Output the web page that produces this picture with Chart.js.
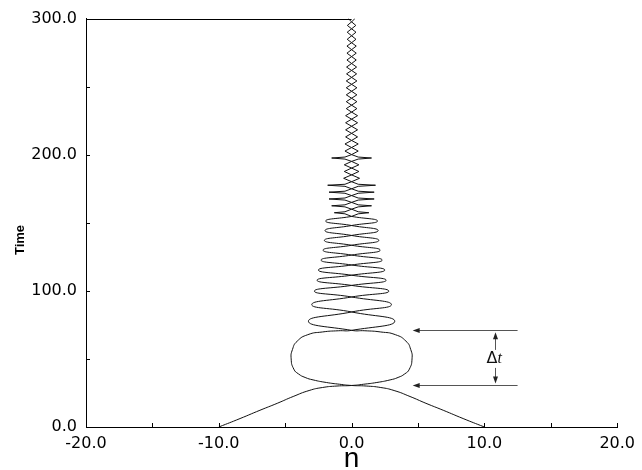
<!DOCTYPE html>
<html>
<head>
<meta charset="utf-8">
<script src="https://cdn.jsdelivr.net/npm/chart.js@4/dist/chart.umd.min.js"></script>
<style>
  html, body { margin: 0; padding: 0; background: #fff; }
  canvas { display: block; }
</style>
</head>
<body>
<canvas id="chart" width="642" height="470"></canvas>
<script>
// tick values
var xTickLabels = [-20, -10, 0, 10, 20];
var xMinorTicks = [-15, -5, 5, 15];
var yTickLabels = [0, 100, 200, 300];
var yMinorTicks = [50, 150, 250];

// particle starting at n = -10, [n, time], up to the end of the clear loops
var loopsA = [
    [-10.0, 0], [-8.4, 6.2], [-6.9, 12.3], [-5.6, 17.4], [-4.4, 22.4], [-3.2, 26.8],
    [-2.2, 29.0], [-1.1, 30.1], [0, 30.5], [0.9, 31.4], [1.9, 32.7], [2.9, 34.6],
    [3.5, 36.4], [4.0, 39.0], [4.35, 42.5], [4.55, 50.0], [4.45, 57.0], [4.1, 63.0],
    [3.3, 67.8], [2.2, 69.8], [1.0, 70.7], [0, 71.0], [-3.25, 77.7], [0, 84.5],
    [3.0, 89.9], [0, 95.5], [-2.8, 99.8], [0, 104.0], [2.6, 107.8], [0, 111.5],
    [-2.5, 115.3], [0, 119.0], [2.3, 122.6], [0, 126.3], [-2.15, 129.9], [0, 133.5],
    [2.05, 137.1], [0, 140.7], [-2.0, 144.3], [0, 148.0], [1.95, 151.3], [0, 154.7]
];
// same particle, zig-zag part with the thin horizontal spikes
var chainA = [
    [0, 154.7], [-0.5, 156.6], [-1.3, 157.4], [-0.5, 158.1], [0, 160.0],
    [0.5, 161.7], [1.5, 162.5], [0.5, 163.2], [0, 165.0],
    [-0.5, 166.7], [-1.7, 167.5], [-0.5, 168.2], [0, 170.0],
    [0.5, 171.7], [1.7, 172.5], [0.5, 173.2], [0, 175.0],
    [-0.5, 176.8], [-1.8, 177.6], [-0.5, 178.3], [0, 180.2],
    [0.6, 182.7], [0, 185.2], [-0.55, 187.7], [0, 190.2], [0.55, 192.6], [0, 195.1],
    [-0.5, 196.8], [-1.5, 197.6], [-0.5, 198.3], [0, 200.1],
    [0.5, 202.7], [0, 205.3], [-0.5, 207.9], [0, 210.5], [0.45, 213.1],
    [0, 215.7], [-0.45, 218.3], [0, 220.9], [0.45, 223.5], [0, 226.1], [-0.45, 228.7],
    [0, 231.3], [0.4, 233.9], [0, 236.4], [-0.4, 239.0], [0, 241.5], [0.4, 244.0],
    [0, 246.6], [-0.4, 249.2], [0, 251.7], [0.4, 254.2], [0, 256.8], [-0.38, 259.4],
    [0, 261.9], [0.38, 264.4], [0, 267.0], [-0.35, 269.6], [0, 272.1], [0.35, 274.6],
    [0, 277.2], [-0.35, 279.8], [0, 282.3], [0.33, 284.8], [0, 287.4], [-0.33, 290.0],
    [0, 292.5], [0.32, 295.0], [0, 297.6], [-0.25, 300.0]
];

// particle starting at n = +10
var loopsB = [
    [10.0, 0], [8.4, 6.2], [6.9, 12.3], [5.6, 17.4], [4.4, 22.4], [3.2, 26.8],
    [2.2, 29.0], [1.1, 30.1], [0, 30.5], [-0.9, 31.4], [-1.9, 32.7], [-2.9, 34.6],
    [-3.5, 36.4], [-4.0, 39.0], [-4.35, 42.5], [-4.55, 50.0], [-4.45, 57.0], [-4.1, 63.0],
    [-3.3, 67.8], [-2.2, 69.8], [-1.0, 70.7], [0, 71.0], [3.25, 77.7], [0, 84.5],
    [-3.0, 89.9], [0, 95.5], [2.8, 99.8], [0, 104.0], [-2.6, 107.8], [0, 111.5],
    [2.5, 115.3], [0, 119.0], [-2.3, 122.6], [0, 126.3], [2.15, 129.9], [0, 133.5],
    [-2.05, 137.1], [0, 140.7], [2.0, 144.3], [0, 148.0], [-1.95, 151.3], [0, 154.7]
];
var chainB = [
    [0, 154.7], [0.5, 156.6], [1.3, 157.4], [0.5, 158.1], [0, 160.0],
    [-0.5, 161.7], [-1.5, 162.5], [-0.5, 163.2], [0, 165.0],
    [0.5, 166.7], [1.7, 167.5], [0.5, 168.2], [0, 170.0],
    [-0.5, 171.7], [-1.7, 172.5], [-0.5, 173.2], [0, 175.0],
    [0.5, 176.8], [1.8, 177.6], [0.5, 178.3], [0, 180.2],
    [-0.6, 182.7], [0, 185.2], [0.55, 187.7], [0, 190.2], [-0.55, 192.6], [0, 195.1],
    [0.5, 196.8], [1.5, 197.6], [0.5, 198.3], [0, 200.1],
    [-0.5, 202.7], [0, 205.3], [0.5, 207.9], [0, 210.5], [-0.45, 213.1],
    [0, 215.7], [0.45, 218.3], [0, 220.9], [-0.45, 223.5], [0, 226.1], [0.45, 228.7],
    [0, 231.3], [-0.4, 233.9], [0, 236.4], [0.4, 239.0], [0, 241.5], [-0.4, 244.0],
    [0, 246.6], [0.4, 249.2], [0, 251.7], [-0.4, 254.2], [0, 256.8], [0.38, 259.4],
    [0, 261.9], [-0.38, 264.4], [0, 267.0], [0.35, 269.6], [0, 272.1], [-0.35, 274.6],
    [0, 277.2], [0.35, 279.8], [0, 282.3], [-0.33, 284.8], [0, 287.4], [0.33, 290.0],
    [0, 292.5], [-0.32, 295.0], [0, 297.6], [0.25, 300.0]
];

// the two crossings marked with arrows
var deltaT = [30.5, 71.0];

function toPoints(arr) {
    return arr.map(function(p) { return {x: p[0], y: p[1]}; });
}

function curve(arr, tension) {
    return {
        data: toPoints(arr),
        showLine: true,
        borderColor: '#111',
        borderWidth: 1,
        pointRadius: 0,
        tension: tension,
        fill: false
    };
}

function arrowHead(ctx, x, y, dir) {
    ctx.beginPath();
    if (dir === 'left') {
        ctx.moveTo(x, y); ctx.lineTo(x + 7, y - 2.5); ctx.lineTo(x + 7, y + 2.5);
    } else if (dir === 'up') {
        ctx.moveTo(x, y); ctx.lineTo(x - 2.5, y + 7); ctx.lineTo(x + 2.5, y + 7);
    } else {
        ctx.moveTo(x, y); ctx.lineTo(x - 2.5, y - 7); ctx.lineTo(x + 2.5, y - 7);
    }
    ctx.closePath();
    ctx.fill();
}

var extras = {
    id: 'extras',
    afterDraw: function(chart) {
        var ctx = chart.ctx;
        var xs = chart.scales.x;
        var ys = chart.scales.y;
        var area = chart.chartArea;
        ctx.save();

        // ticks drawn inward
        ctx.strokeStyle = '#000';
        ctx.lineWidth = 1;
        ctx.beginPath();
        xTickLabels.concat(xMinorTicks).forEach(function(v) {
            var px = Math.round(xs.getPixelForValue(v)) + 0.5;
            ctx.moveTo(px, area.bottom);
            ctx.lineTo(px, area.bottom - 4);
        });
        yTickLabels.concat(yMinorTicks).forEach(function(v) {
            var py = Math.round(ys.getPixelForValue(v)) + 0.5;
            ctx.moveTo(area.left, py);
            ctx.lineTo(area.left + 4, py);
        });
        // top frame line, only the left half survives in the original
        var top = Math.round(area.top) + 0.5;
        ctx.moveTo(area.left, top);
        ctx.lineTo(xs.getPixelForValue(0), top);
        ctx.stroke();

        // y axis title
        ctx.save();
        ctx.translate(20, 240);
        ctx.rotate(-Math.PI / 2);
        ctx.fillStyle = '#000';
        ctx.textAlign = 'center';
        ctx.textBaseline = 'middle';
        ctx.font = 'bold 13px "Liberation Sans", Arial, sans-serif';
        ctx.fillText('Time', 0, 0);
        ctx.restore();

        // Δt arrows
        var tipX = xs.getPixelForValue(4.6);
        var tailX = xs.getPixelForValue(12.5);
        var midX = Math.round(xs.getPixelForValue(10.8)) + 0.5;
        ctx.strokeStyle = '#555';
        ctx.fillStyle = '#222';
        deltaT.forEach(function(t) {
            var py = Math.round(ys.getPixelForValue(t)) + 0.5;
            ctx.beginPath();
            ctx.moveTo(tailX, py);
            ctx.lineTo(tipX + 6, py);
            ctx.stroke();
            arrowHead(ctx, tipX, py, 'left');
        });
        var yLow = ys.getPixelForValue(deltaT[0]);
        var yHigh = ys.getPixelForValue(deltaT[1]);
        var yMid = ys.getPixelForValue((deltaT[0] + deltaT[1]) / 2);
        ctx.beginPath();
        ctx.moveTo(midX, yMid - 8);
        ctx.lineTo(midX, yHigh + 7);
        ctx.moveTo(midX, yMid + 10);
        ctx.lineTo(midX, yLow - 7);
        ctx.stroke();
        arrowHead(ctx, midX, yHigh + 2, 'up');
        arrowHead(ctx, midX, yLow - 2, 'down');

        ctx.fillStyle = '#111';
        ctx.textBaseline = 'middle';
        ctx.textAlign = 'left';
        ctx.font = '16px "DejaVu Sans", sans-serif';
        var w = ctx.measureText('\u0394').width;
        ctx.fillText('\u0394', midX - 9, yMid + 1);
        ctx.font = 'italic 16px "Liberation Serif", "Times New Roman", serif';
        ctx.fillText('t', midX - 9 + w, yMid + 1);

        ctx.restore();
    }
};

Chart.defaults.font.family = '"DejaVu Sans", "Liberation Sans", Arial, sans-serif';
Chart.defaults.color = '#000';

var ctx = document.getElementById('chart').getContext('2d');
var chart = new Chart(ctx, {
    type: 'scatter',
    data: {
        datasets: [
            curve(loopsA, 0.55),
            curve(chainA, 0),
            curve(loopsB, 0.55),
            curve(chainB, 0)
        ]
    },
    options: {
        responsive: false,
        animation: false,
        devicePixelRatio: 1,
        layout: {padding: {top: 14, right: 18, bottom: 0, left: 0}},
        plugins: {
            legend: {display: false},
            tooltip: {enabled: false}
        },
        scales: {
            x: {
                type: 'linear',
                position: 'bottom',
                min: -20,
                max: 20,
                grid: {display: false, drawTicks: false},
                border: {display: true, color: '#000', width: 1},
                afterBuildTicks: function(s) {
                    s.ticks = xTickLabels.map(function(v) { return {value: v}; });
                },
                afterFit: function(s) { s.height = 43; },
                ticks: {
                    padding: 7,
                    maxRotation: 0,
                    font: {size: 16},
                    callback: function(v) { return Number(v).toFixed(1); }
                },
                title: {
                    display: true,
                    text: 'n',
                    font: {size: 28, lineHeight: 1.0, family: '"Liberation Sans", Arial, sans-serif'},
                    padding: {top: 0, bottom: -3}
                }
            },
            y: {
                type: 'linear',
                min: 0,
                max: 300,
                grid: {display: false, drawTicks: false},
                border: {display: true, color: '#000', width: 1},
                afterBuildTicks: function(s) {
                    s.ticks = yTickLabels.map(function(v) { return {value: v}; });
                },
                afterFit: function(s) { s.width = 86; },
                ticks: {
                    padding: 9,
                    font: {size: 16},
                    callback: function(v) { return Number(v).toFixed(1); }
                }
            }
        }
    },
    plugins: [extras]
});
</script>
</body>
</html>
